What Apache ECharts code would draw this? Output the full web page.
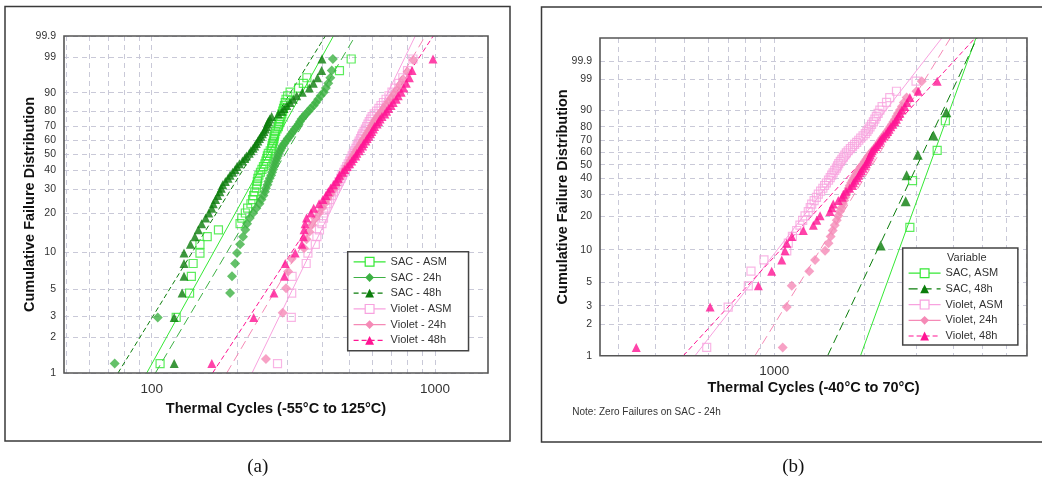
<!DOCTYPE html>
<html><head><meta charset="utf-8">
<script src="https://cdn.jsdelivr.net/npm/echarts@6/dist/echarts.min.js"></script>
<style>html,body{margin:0;padding:0;background:#fff}#c{width:1042px;height:482px}</style>
</head><body><div id="c"></div>
<script>
// ---------- plotting positions (cumulative failure %) ----------
const pct58 = [1.20,2.91,4.62,6.34,8.05,9.76,11.47,13.18,14.90,16.61,18.32,20.03,21.75,23.46,25.17,26.88,28.60,30.31,32.02,33.73,35.45,37.16,38.87,40.58,42.29,44.01,45.72,47.43,49.14,50.86,52.57,54.28,55.99,57.71,59.42,61.13,62.84,64.55,66.27,67.98,69.69,71.40,73.12,74.83,76.54,78.25,79.97,81.68,83.39,85.10,86.82,88.53,90.24,91.95,93.66,95.38,97.09,98.80];
const pct53 = [1.31,3.18,5.06,6.93,8.80,10.67,12.55,14.42,16.29,18.16,20.04,21.91,23.78,25.66,27.53,29.40,31.27,33.15,35.02,36.89,38.76,40.64,42.51,44.38,46.25,48.13,50.00,51.87,53.75,55.62,57.49,59.36,61.24,63.11,64.98,66.85,68.73,70.60,72.47,74.34,76.22,78.09,79.96,81.84,83.71,85.58,87.45,89.33,91.20,93.07,94.94,96.82,98.69];
const pct4 = [15.9,38.6,61.4,84.1];
const pct6 = [10.9,26.6,42.2,57.8,73.4,89.1];

// ---------- panel (a): thermal cycles to failure (-55C to 125C) ----------
const aSacAsm = [107,122,136,138,140,148,148,157,172,205,208,214,218,224,227,229,231,234,235,236,237,239,242,245,248,251,253,255,256,258,262,265,266,267,269,270,271,272,274,277,280,281,283,284,286,288,290,292,294,296,298,302,308,330,343,353,460,506];
const aSac24 = [74,105,189,192,197,200,205,210,214,217,222,228,234,240,244,248,251,253,256,258,261,264,266,268,270,272,274,276,279,281,284,287,289,294,298,302,307,311,315,320,325,330,334,338,344,350,358,364,373,380,387,395,405,412,420,427,432,436];
const aSac48 = [120,120,128,130,130,130,137,142,146,150,155,159,163,165,168,171,174,176,178,182,186,189,193,197,200,204,209,213,216,221,224,228,231,234,237,240,243,246,249,252,254,256,258,261,265,280,288,293,300,308,316,325,340,360,372,385,398,399];
const aVioAsm = [278,311,312,313,351,356,378,383,391,399,404,405,412,418,425,432,438,445,452,458,465,470,476,482,488,494,500,505,510,515,520,526,531,536,540,546,551,556,562,568,574,580,586,593,600,610,622,634,645,658,672,688,705,722,745,770,800,836];
const aVio24 = [253,290,298,303,312,345,352,360,368,378,390,400,410,418,428,436,445,452,460,468,475,482,490,497,504,511,518,525,532,540,547,554,562,570,577,585,592,600,608,616,626,636,648,660,672,686,700,716,732,752,772,800,838];
const aVio48 = [163,229,270,294,296,321,339,343,345,348,352,365,373,390,402,412,420,428,438,448,455,460,472,480,490,500,508,515,525,530,540,546,555,560,570,576,584,592,598,606,612,625,632,640,650,665,675,686,700,712,730,742,760,776,792,812,830,984];
// fitted lines [cycles, %]
const aFitSacAsm = [[96,1],[438,99.9]];
const aFitSac24 = [[103,1],[523,99.9]];
const aFitSac48 = [[76,1],[410,99.9]];
const aFitVioAsm = [[226,1],[852,99.9]];
const aFitVio24 = [[184,1],[924,99.9]];
const aFitVio48 = [[164,1],[986,99.9]];

// ---------- panel (b): thermal cycles to failure (-40C to 70C) ----------
const bSacAsm = [2850,2910,3520,3750];
const bSac48 = [2275,2760,2780,3030,3420,3780];
const bVioAsm = [593,700,818,835,923,1101,1114,1150,1189,1219,1245,1268,1300,1320,1335,1360,1385,1405,1430,1455,1475,1495,1520,1540,1558,1575,1595,1615,1630,1645,1665,1685,1705,1725,1745,1770,1800,1830,1860,1890,1920,1950,1985,2020,2045,2070,2095,2120,2150,2175,2200,2230,2260,2300,2380,2440,2570,2990];
const bVio24 = [1067,1101,1144,1310,1370,1480,1520,1545,1570,1595,1620,1640,1660,1680,1700,1715,1730,1745,1760,1775,1790,1810,1830,1850,1870,1890,1915,1940,1965,1990,2010,2035,2060,2085,2110,2140,2170,2200,2225,2250,2275,2300,2330,2360,2390,2420,2450,2480,2510,2540,2570,2600,2640,2680,2720,2780,3000,3125];
const bVio48 = [344,609,884,980,1059,1086,1101,1144,1251,1352,1388,1424,1538,1560,1577,1640,1690,1704,1740,1790,1830,1845,1870,1900,1920,1940,1960,1985,2010,2035,2055,2070,2085,2100,2115,2130,2160,2190,2220,2250,2270,2300,2330,2370,2400,2430,2460,2500,2540,2570,2610,2640,2680,2740,2790,2850,3040,3520];
const bFitSacAsm = [[1947,1],[4750,99.999]];
const bFitSac48 = [[1510,1],[4790,99.999]];
const bFitVioAsm = [[542,1],[3650,99.999]];
const bFitVio24 = [[861,1],[3900,99.999]];
const bFitVio48 = [[495,1],[4720,99.999]];

// ---------- axes ----------
const aXRange = [49, 1539];
const bXRange = [260, 7047];
const aYRange = [1, 99.9];
const bYRange = [1, 99.999];
const aXGrid = [50,60,70,80,90,100,200,300,400,500,600,700,800,900,1000];
const aXLabels = [100,1000];
const bXGrid = [300,400,500,600,700,800,900,1000,2000,3000,4000,5000,6000,7000];
const bXLabels = [1000];
const yTicks = [1,2,3,5,10,20,30,40,50,60,70,80,90,99,99.9];

// ---------- transforms (log10 cycles, Weibull probability) ----------
const lg = v => Math.log10(v);
const wb = p => Math.log(-Math.log(1 - p/100));
const pairs = (ts, ps) => ts.map((t,i) => [lg(t), wb(ps[i])]);
const fitPts = f => f.map(d => [lg(d[0]), wb(d[1])]);

const COL = {
  sacAsm:'#35e835', sac24:'#3db144', sac48:'#0b7d0b',
  vioAsm:'#f8a2df', vio24:'#f58ab6', vio48:'#ff1493'
};
const FONT = 'Liberation Sans, Arial, sans-serif';

function fitSeries(name, fit, color, dash, symbol, hollow, gi){
  return {type:'line', name, xAxisIndex:gi, yAxisIndex:gi, data: fitPts(fit),
    showSymbol:false, symbol, symbolSize:9, silent:true, z:2, clip:true,
    lineStyle:{color, width:1, type:dash},
    itemStyle: hollow ? {color:'#fff', borderColor:color, borderWidth:1.2} : {color}};
}
function ptSeries(name, data, color, symbol, size, hollow, gi){
  return {type:'scatter', name, xAxisIndex:gi, yAxisIndex:gi, data, symbol, symbolSize:size, silent:true, z:3,
    itemStyle: hollow ? {color:'rgba(255,255,255,0)', borderColor:color, borderWidth:1.2} : {color}};
}

const GA = {left:64, top:36, width:424, height:337};
const GB = {left:600, top:38, width:427, height:317.7};

function xAxisCfg(gi, range, grid, labels, name, gap){
  return {type:'value', gridIndex:gi, min:lg(range[0]), max:lg(range[1]),
    name, nameLocation:'middle', nameGap:gap, nameMoveOverlap:false,
    nameTextStyle:{fontFamily:FONT, fontSize:14.5, fontWeight:'bold', color:'#111'},
    axisLine:{show:false},
    axisTick:{show:false, customValues: grid.map(lg)},
    axisLabel:{customValues: labels.map(lg), margin:9, fontFamily:FONT, fontSize:13.5, color:'#333',
      formatter: v => String(Math.round(Math.pow(10, v)))},
    splitLine:{show:true, lineStyle:{color:'#c9c9d8', width:1, type:[5,4]}}};
}
function yAxisCfg(gi, range, gap){
  return {type:'value', gridIndex:gi, min:wb(range[0]), max:wb(range[1]),
    name:'Cumulative Failure Distribution', nameLocation:'middle', nameGap:gap, nameMoveOverlap:false,
    nameTextStyle:{fontFamily:FONT, fontSize:14.5, fontWeight:'bold', color:'#111'},
    axisLine:{show:false},
    axisTick:{show:false, customValues: yTicks.map(wb)},
    axisLabel:{customValues: yTicks.map(wb), margin:8, fontFamily:FONT, fontSize:10.5, color:'#333',
      formatter: v => String(Math.round(1000*(1-Math.exp(-Math.exp(v))))/10)},
    splitLine:{show:true, lineStyle:{color:'#c9c9d8', width:1, type:[5,4]}}};
}

const series = [
  fitSeries('SAC - ASM', aFitSacAsm, COL.sacAsm, 'solid', 'rect', true, 0),
  fitSeries('SAC - 24h', aFitSac24, COL.sac24, [9,5], 'diamond', false, 0),
  fitSeries('SAC - 48h', aFitSac48, COL.sac48, [5,3], 'triangle', false, 0),
  fitSeries('Violet - ASM', aFitVioAsm, COL.vioAsm, 'solid', 'rect', true, 0),
  fitSeries('Violet - 24h', aFitVio24, COL.vio24, [9,5], 'diamond', false, 0),
  fitSeries('Violet - 48h', aFitVio48, COL.vio48, [5,3], 'triangle', false, 0),
  ptSeries('a SAC ASM pts', pairs(aSacAsm, pct58), COL.sacAsm, 'rect', 8, true, 0),
  ptSeries('a SAC 24h pts', pairs(aSac24, pct58), COL.sac24, 'diamond', 10, false, 0),
  ptSeries('a SAC 48h pts', pairs(aSac48, pct58), COL.sac48, 'triangle', 9, false, 0),
  ptSeries('a Vio ASM pts', pairs(aVioAsm, pct58), COL.vioAsm, 'rect', 8, true, 0),
  ptSeries('a Vio 24h pts', pairs(aVio24, pct53), COL.vio24, 'diamond', 10, false, 0),
  ptSeries('a Vio 48h pts', pairs(aVio48, pct58), COL.vio48, 'triangle', 9, false, 0),

  fitSeries('SAC, ASM', bFitSacAsm, COL.sacAsm, 'solid', 'rect', true, 1),
  fitSeries('SAC, 48h', bFitSac48, COL.sac48, [9,5], 'triangle', false, 1),
  fitSeries('Violet, ASM', bFitVioAsm, COL.vioAsm, 'solid', 'rect', true, 1),
  fitSeries('Violet, 24h', bFitVio24, COL.vio24, [9,5], 'diamond', false, 1),
  fitSeries('Violet, 48h', bFitVio48, COL.vio48, [5,3], 'triangle', false, 1),
  ptSeries('b SAC ASM pts', pairs(bSacAsm, pct4), COL.sacAsm, 'rect', 8, true, 1),
  ptSeries('b SAC 48h pts', pairs(bSac48, pct6), COL.sac48, 'triangle', 10, false, 1),
  ptSeries('b Vio ASM pts', pairs(bVioAsm, pct58), COL.vioAsm, 'rect', 8, true, 1),
  ptSeries('b Vio 24h pts', pairs(bVio24, pct58), COL.vio24, 'diamond', 10, false, 1),
  ptSeries('b Vio 48h pts', pairs(bVio48, pct58), COL.vio48, 'triangle', 9, false, 1)
];

const legendText = {fontFamily:FONT, fontSize:11, color:'#333'};
const option = {
  animation:false,
  backgroundColor:'#fff',
  grid:[
    Object.assign({show:false, outerBoundsMode:'none', containLabel:false}, GA),
    Object.assign({show:false, outerBoundsMode:'none', containLabel:false}, GB)
  ],
  xAxis:[
    xAxisCfg(0, aXRange, aXGrid, aXLabels, 'Thermal Cycles (-55\u00B0C to 125\u00B0C)', 28),
    xAxisCfg(1, bXRange, bXGrid, bXLabels, 'Thermal Cycles (-40\u00B0C to 70\u00B0C)', 24.5)
  ],
  yAxis:[ yAxisCfg(0, aYRange, 27), yAxisCfg(1, bYRange, 29.5) ],
  legend:[
    {orient:'vertical', left:347.7, top:251.7, itemWidth:32, itemHeight:11, itemGap:4.7,
     padding:[4.6,17,4.9,5.3], backgroundColor:'#fff', borderColor:'#444', borderWidth:1.5,
     selectedMode:false, textStyle:legendText, lineStyle:{width:1.2}, z:10,
     data:[
       {name:'SAC - ASM', itemStyle:{borderWidth:1.2}},
       {name:'SAC - 24h', lineStyle:{type:'solid'}},
       {name:'SAC - 48h'},
       {name:'Violet - ASM', itemStyle:{borderWidth:1.2}},
       {name:'Violet - 24h', lineStyle:{type:'solid'}},
       {name:'Violet - 48h'}
     ]},
    {orient:'vertical', left:902.7, top:248, itemWidth:32, itemHeight:11, itemGap:4.7,
     padding:[19.7,15,3.5,5.3], backgroundColor:'#fff', borderColor:'#444', borderWidth:1.5,
     selectedMode:false, textStyle:legendText, lineStyle:{width:1.2}, z:10,
     data:[
       {name:'SAC, ASM', itemStyle:{borderWidth:1.2}},
       {name:'SAC, 48h'},
       {name:'Violet, ASM', itemStyle:{borderWidth:1.2}},
       {name:'Violet, 24h', lineStyle:{type:'solid'}},
       {name:'Violet, 48h'}
     ]}
  ],
  graphic:[
    {type:'rect', z:100, silent:true, shape:{x:5, y:6.5, width:505, height:434.5}, style:{fill:'none', stroke:'#3a3a3a', lineWidth:1.5}},
    {type:'rect', z:100, silent:true, shape:{x:541.5, y:7, width:530, height:435}, style:{fill:'none', stroke:'#3a3a3a', lineWidth:1.5}},
    {type:'rect', z:100, silent:true, shape:{x:GA.left, y:GA.top, width:GA.width, height:GA.height}, style:{fill:'none', stroke:'#555', lineWidth:1.6}},
    {type:'rect', z:100, silent:true, shape:{x:GB.left, y:GB.top, width:GB.width, height:GB.height}, style:{fill:'none', stroke:'#555', lineWidth:1.6}},
    {type:'text', z:100, x:257.7, y:467, style:{text:'(a)', font:'19px "Liberation Serif", "Times New Roman", serif', fill:'#111', textAlign:'center', textVerticalAlign:'middle'}},
    {type:'text', z:100, x:793.3, y:467, style:{text:'(b)', font:'19px "Liberation Serif", "Times New Roman", serif', fill:'#111', textAlign:'center', textVerticalAlign:'middle'}},
    {type:'text', z:100, x:572.3, y:412.7, style:{text:'Note: Zero Failures on SAC - 24h', font:'10px "Liberation Sans", Arial, sans-serif', fill:'#333', textVerticalAlign:'middle'}},
    {type:'text', z:120, x:947, y:258.3, style:{text:'Variable', font:'11px "Liberation Sans", Arial, sans-serif', fill:'#333', textVerticalAlign:'middle'}}
  ],
  series
};
const chart = echarts.init(document.getElementById('c'), null, {renderer:'canvas'});
chart.setOption(option);
</script></body></html>
